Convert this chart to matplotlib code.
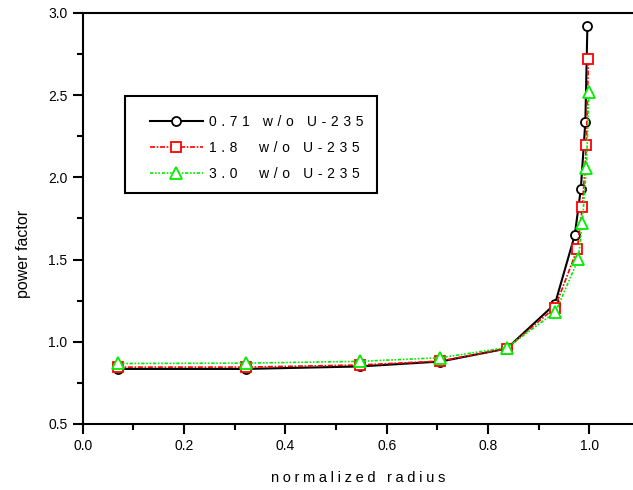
import matplotlib
matplotlib.use("Agg")
import matplotlib.pyplot as plt
from matplotlib.patches import Rectangle
from matplotlib.ticker import MultipleLocator, FormatStrFormatter

plt.rcParams['font.family'] = ['Liberation Sans', 'DejaVu Sans']

# normalized radius / power factor for each enrichment case
r_071 = [0.0695, 0.322, 0.547, 0.706, 0.837, 0.932, 0.971, 0.983, 0.992, 0.996]
pf_071 = [0.835, 0.835, 0.850, 0.880, 0.959, 1.230, 1.648, 1.928, 2.339, 2.921]

r_18 = [0.0695, 0.322, 0.547, 0.706, 0.837, 0.932, 0.976, 0.986, 0.994, 0.998]
pf_18 = [0.846, 0.846, 0.859, 0.883, 0.959, 1.208, 1.563, 1.818, 2.195, 2.718]

r_30 = [0.0695, 0.322, 0.547, 0.706, 0.837, 0.933, 0.978, 0.986, 0.994, 0.999]
pf_30 = [0.868, 0.870, 0.881, 0.903, 0.965, 1.181, 1.502, 1.724, 2.055, 2.521]

labels = ["0.71 w/o U-235", "1.8  w/o U-235", "3.0  w/o U-235"]


def spaced(s, gap="\u2004"):
    # wide letter spacing like the old plotting package
    return gap.join(s)


fig = plt.figure(figsize=(6.33, 4.9), dpi=100)
ax = fig.add_axes([0.1306, 0.1347, 0.8694, 0.8388])

ax.plot(r_071, pf_071, color='black', lw=1.5, ls='-',
        marker='o', ms=6.5, mfc='white', mec='black', mew=1.3,
        label=spaced(labels[0]))
ax.plot(r_18, pf_18, color='red', lw=1.2, ls=(0, (3, 1, 1, 1)),
        marker='s', ms=7, mfc='white', mec='red', mew=1.3,
        label=spaced(labels[1]))
ax.plot(r_30, pf_30, color='#00ee00', lw=1.2, ls=(0, (2, 1, 1, 1, 1, 1)),
        marker='^', ms=8, mfc='white', mec='#00ee00', mew=1.3,
        label=spaced(labels[2]))

ax.set_xlim(0, 1.086)
ax.set_ylim(0.5, 3.0)
ax.xaxis.set_major_locator(MultipleLocator(0.2))
ax.xaxis.set_minor_locator(MultipleLocator(0.1))
ax.yaxis.set_major_locator(MultipleLocator(0.5))
ax.yaxis.set_minor_locator(MultipleLocator(0.25))
ax.xaxis.set_major_formatter(FormatStrFormatter('%.1f'))
ax.yaxis.set_major_formatter(FormatStrFormatter('%.1f'))

ax.tick_params(which='major', direction='out', length=7, width=1.5, labelsize=10, pad=4)
ax.tick_params(which='minor', direction='out', length=4, width=1.5)
ax.tick_params(top=False, right=False)

ax.spines['right'].set_visible(False)
for s in ['left', 'bottom', 'top']:
    ax.spines[s].set_linewidth(1.5)

ax.set_xlabel(spaced("normalized radius", "\u2005"), fontsize=10.5, labelpad=13)
ax.set_ylabel("power factor", fontsize=11.5)
ax.yaxis.set_label_coords(-0.094, 0.414)

# legend box drawn separately
box = Rectangle((125 / 633, 1 - 193 / 490), 252 / 633, 97 / 490,
                transform=fig.transFigure, facecolor='white',
                edgecolor='black', lw=1.5, zorder=4)
fig.patches.append(box)

leg = fig.legend(loc='center left', bbox_to_anchor=(150 / 633, 1 - 148 / 490),
                 frameon=False, fontsize=10, handlelength=3.8,
                 handletextpad=0.45, labelspacing=0.85, borderpad=0,
                 borderaxespad=0)
leg.set_zorder(5)

fig.savefig("out.png", dpi=100)
